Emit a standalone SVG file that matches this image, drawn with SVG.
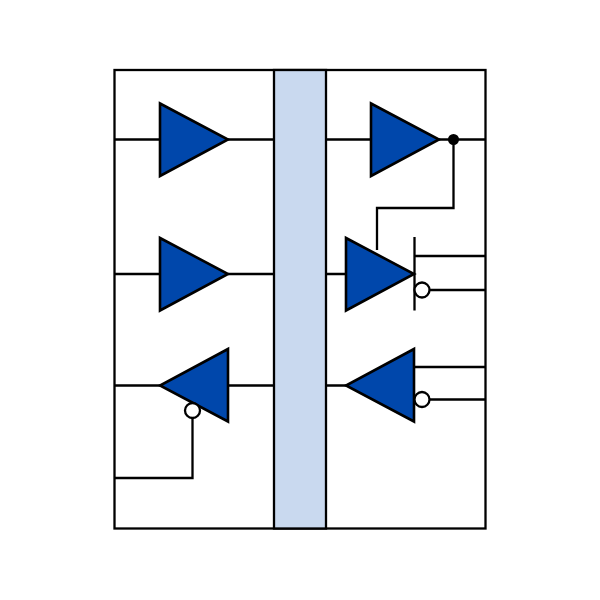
<svg xmlns="http://www.w3.org/2000/svg" width="600" height="600" viewBox="0 0 600 600">
<style>
.l{fill:none;stroke:#000;stroke-width:2.300}
.t{fill:#0047ab;stroke:#000;stroke-width:2.600;stroke-linejoin:miter}
.b{fill:#fff;stroke:#000;stroke-width:2.300}
</style>
<rect width="600" height="600" fill="#fff"/>
<rect id="frame" class="l" x="114.500" y="70" width="371" height="458.500"/>
<rect id="bus" class="l" x="274" y="70" width="52" height="458.500" style="fill:#c9d9ef"/>
<g id="connectors">
<path class="l" d="M114.500 139.500H160M228 139.500H274M326 139.500H371M439 139.500H485.500"/>
<path class="l" d="M453.500 139.500V208H377V250"/>
<path class="l" d="M114.500 274H160M228 274H274M326 274H346"/>
<path class="l" d="M414.500 237V310.500M414.500 256H485.500M430 290H485.500"/>
<path class="l" d="M114.500 385.500H160M228 385.500H274M326 385.500H346"/>
<path class="l" d="M414 367H485.500M430 399.500H485.500"/>
<path class="l" d="M192.500 418V478H114.500"/>
</g>
<g id="buffer-1"><polygon class="t" points="160,103.500 228,139.500 160,176"/></g>
<g id="buffer-2"><polygon class="t" points="371,103.500 439,139.500 371,176"/><circle cx="453.500" cy="139.500" r="5.500" fill="#000"/></g>
<g id="buffer-3"><polygon class="t" points="160,238 228,274 160,310.500"/></g>
<g id="buffer-4"><polygon class="t" points="346,238 414,274 346,310.500"/><circle class="b" cx="422" cy="290" r="7.500"/></g>
<g id="buffer-5"><polygon class="t" points="228,349 160,385.500 228,421.500"/><circle class="b" cx="192.500" cy="410.500" r="7.500"/></g>
<g id="buffer-6"><polygon class="t" points="414,349 346,385.500 414,421.500"/><circle class="b" cx="422" cy="399.500" r="7.500"/></g>
</svg>
